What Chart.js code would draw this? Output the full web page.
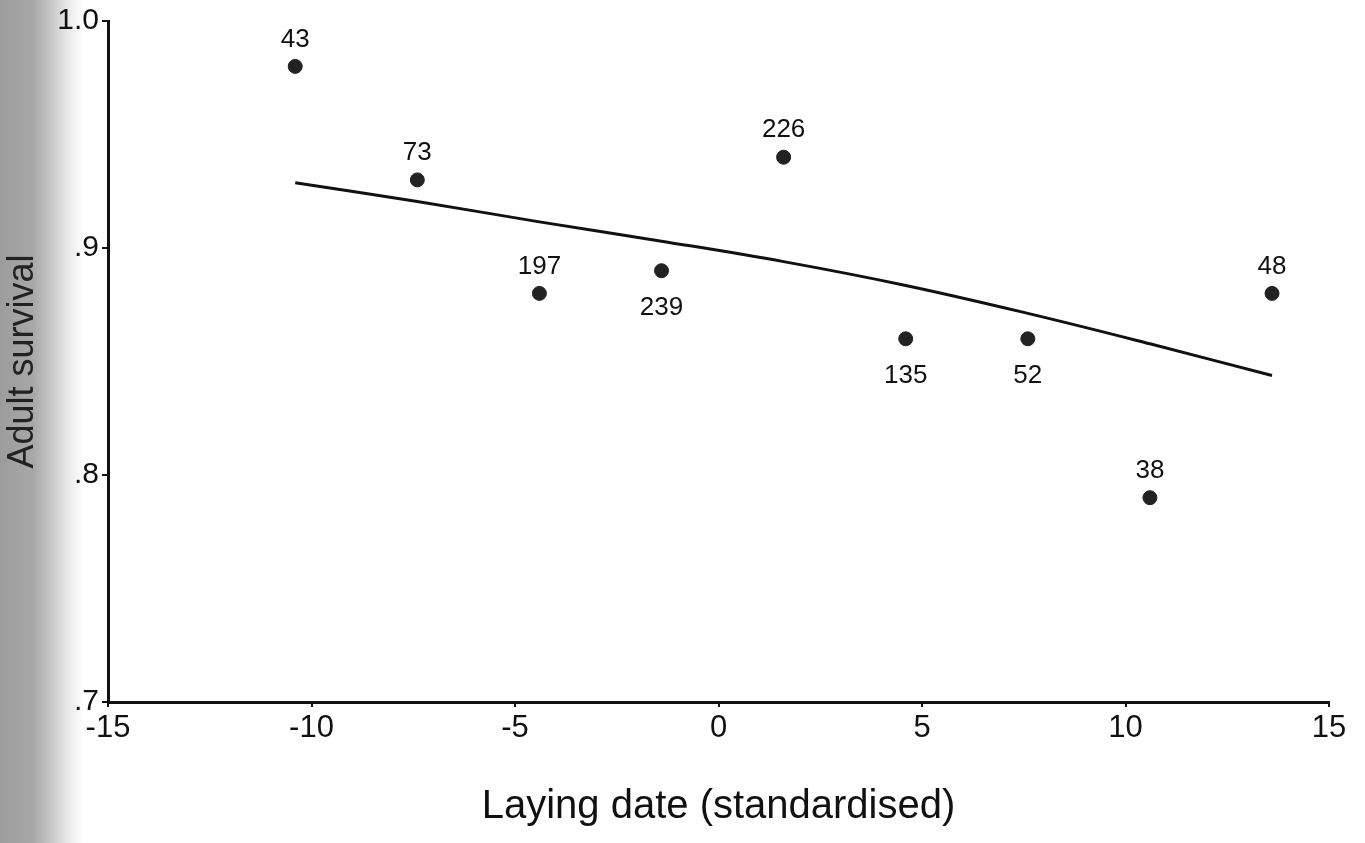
<!DOCTYPE html>
<html lang="en">
<head>
    <meta charset="UTF-8">
    <title>Adult survival vs laying date</title>
    <script src="https://cdn.jsdelivr.net/npm/chart.js"></script>
    <style>
        html, body { margin: 0; padding: 0; background: #fff; }
        #wrap { width: 1365px; height: 843px; position: relative; }
    </style>
</head>
<body>
    <div id="wrap"><canvas id="survivalChart"></canvas></div>
    <script>
        // data
        const layingDate = [-10.4, -7.4, -4.4, -1.4, 1.6, 4.6, 7.6, 10.6, 13.6];
        const survival = [0.98, 0.93, 0.88, 0.89, 0.94, 0.86, 0.86, 0.79, 0.88];
        const sampleSize = ['43', '73', '197', '239', '226', '135', '52', '38', '48'];
        const labelBelow = [false, false, false, true, false, true, true, false, false];

        // fitted curve
        const fitX = [-10.4, -7.4, -4.4, -1.4, 1.6, 4.6, 7.6, 10.6, 13.6];
        const fitY = [0.9287, 0.9205, 0.9115, 0.9030, 0.8940, 0.8835, 0.8712, 0.8578, 0.8438];

        const yTicks = [0.7, 0.8, 0.9, 1.0];
        const yTickText = ['.7', '.8', '.9', '1.0'];

        const FONT = 'Liberation Sans, Arial, sans-serif';

        const stripPlugin = {
            id: 'strip',
            beforeDraw(chart) {
                const ctx = chart.ctx;
                const g = ctx.createLinearGradient(0, 0, 84, 0);
                g.addColorStop(0, '#9c9c9c');
                g.addColorStop(0.4, '#a8a8a8');
                g.addColorStop(0.6, '#c6c6c6');
                g.addColorStop(0.8, '#e8e8e8');
                g.addColorStop(1, '#ffffff');
                ctx.save();
                ctx.fillStyle = g;
                ctx.fillRect(0, 0, 84, chart.height);
                ctx.restore();
            }
        };

        const pointLabels = {
            id: 'pointLabels',
            afterDatasetsDraw(chart) {
                const meta = chart.getDatasetMeta(1);
                const ctx = chart.ctx;
                ctx.save();
                ctx.font = '26px ' + FONT;
                ctx.fillStyle = '#111';
                ctx.textAlign = 'center';
                ctx.textBaseline = 'middle';
                meta.data.forEach((pt, i) => {
                    const dy = labelBelow[i] ? 37 : -27;
                    ctx.fillText(sampleSize[i], pt.x, pt.y + dy);
                });
                ctx.restore();
            }
        };

        new Chart(document.getElementById('survivalChart'), {
            type: 'scatter',
            data: {
                datasets: [{
                    type: 'line',
                    data: fitX.map((x, i) => ({ x: x, y: fitY[i] })),
                    borderColor: '#111',
                    borderWidth: 3,
                    pointRadius: 0,
                    tension: 0.4,
                    fill: false
                }, {
                    data: layingDate.map((x, i) => ({ x: x, y: survival[i] })),
                    backgroundColor: '#222',
                    borderColor: '#222',
                    pointRadius: 7,
                    borderWidth: 1
                }]
            },
            options: {
                responsive: true,
                maintainAspectRatio: false,
                animation: false,
                layout: { padding: { top: 20, right: 36, left: 0, bottom: 0 } },
                plugins: { legend: { display: false }, tooltip: { enabled: false } },
                scales: {
                    x: {
                        type: 'linear',
                        min: -15, max: 15,
                        afterFit(scale) { scale.height = 141; },
                        ticks: {
                            stepSize: 5,
                            color: '#111',
                            padding: 3,
                            font: { family: FONT, size: 31 }
                        },
                        grid: { drawOnChartArea: false, drawTicks: true, tickLength: 5, color: '#111', lineWidth: 2 },
                        border: { display: true, color: '#111', width: 3 },
                        title: {
                            display: true,
                            text: 'Laying date (standardised)',
                            color: '#111',
                            font: { family: FONT, size: 40 },
                            padding: { top: 0, bottom: 12 }
                        }
                    },
                    y: {
                        type: 'linear',
                        min: 0.7, max: 1.0,
                        afterFit(scale) { scale.width = 108; },
                        afterBuildTicks(scale) { scale.ticks = yTicks.map(v => ({ value: v })); },
                        ticks: {
                            color: '#111',
                            padding: 3,
                            font: { family: FONT, size: 30 },
                            callback: (v) => yTickText[yTicks.findIndex(t => Math.abs(t - v) < 1e-6)]
                        },
                        grid: { drawOnChartArea: false, drawTicks: true, tickLength: 6, color: '#111', lineWidth: 2 },
                        border: { display: true, color: '#111', width: 3 },
                        title: {
                            display: true,
                            text: 'Adult survival',
                            color: '#222',
                            font: { family: FONT, size: 36 },
                            padding: { top: 1, bottom: 0 }
                        }
                    }
                }
            },
            plugins: [stripPlugin, pointLabels]
        });
    </script>
</body>
</html>
